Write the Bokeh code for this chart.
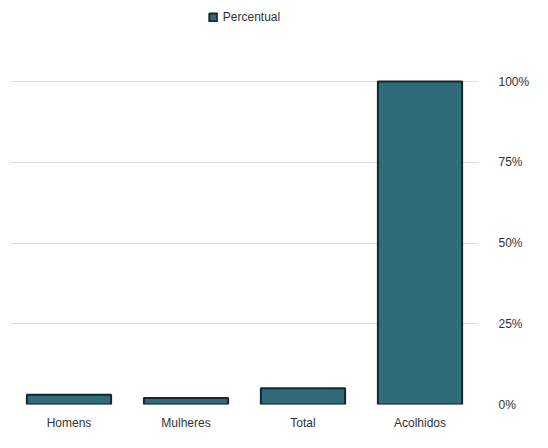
from bokeh.plotting import figure
from bokeh.models import Legend, LegendItem, FixedTicker, LinearAxis, Range1d
from bokeh.embed import file_html
from bokeh.resources import INLINE

categories = ["Homens", "Mulheres", "Total", "Acolhidos"]
percentual = [3, 2, 5, 100]
y_ticks = [0, 25, 50, 75, 100]
y_tick_labels = ["0%", "25%", "50%", "75%", "100%"]

p = figure(x_range=categories, y_range=Range1d(0, 122), width=532, height=432,
           output_backend="svg", toolbar_location=None, y_axis_location=None,
           min_border_left=10, min_border_right=10, min_border_top=10)
p.outline_line_color = None

r = p.vbar(x=categories, top=percentual, width=0.72, fill_color="#2f6b78",
           line_color="#14272c", line_width=2)

yax = LinearAxis(ticker=FixedTicker(ticks=y_ticks),
                 major_label_overrides={t: l for t, l in zip(y_ticks, y_tick_labels)})
yax.axis_line_color = None
yax.major_tick_line_color = None
yax.minor_tick_line_color = None
yax.major_label_text_font = "Liberation Sans"
yax.major_label_text_font_size = "12px"
yax.major_label_text_color = "#333333"
yax.major_label_standoff = 14
p.add_layout(yax, "right")

p.ygrid.ticker = FixedTicker(ticks=y_ticks)
p.ygrid.grid_line_color = "#dcdcdc"
p.xgrid.grid_line_color = None

p.xaxis.axis_line_color = None
p.xaxis.major_tick_line_color = None
p.xaxis.major_label_text_font = "Liberation Sans"
p.xaxis.major_label_text_font_size = "12px"
p.xaxis.major_label_text_color = "#333333"

legend = Legend(items=[LegendItem(label="Percentual", renderers=[r])],
                orientation="horizontal", location="top_center",
                label_text_font="Liberation Sans", label_text_font_size="12px",
                label_text_color="#333333", border_line_color=None,
                background_fill_alpha=0,
                glyph_width=10, glyph_height=10, margin=0, padding=2)
p.add_layout(legend, "center")

open("out.html", "w").write(file_html(p, INLINE))
